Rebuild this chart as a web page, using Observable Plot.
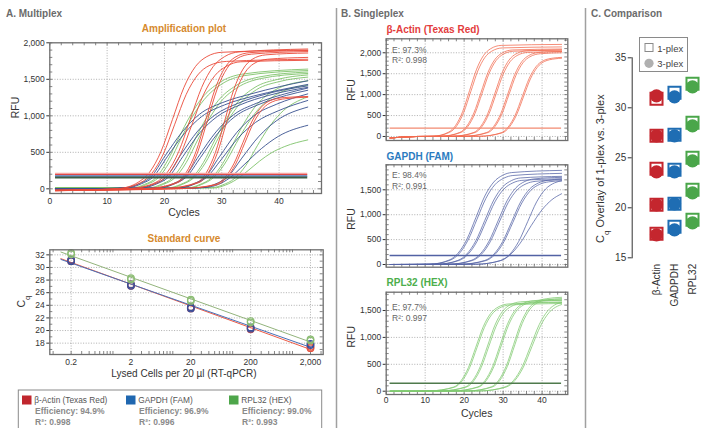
<!DOCTYPE html>
<html><head><meta charset="utf-8">
<script src="https://cdn.jsdelivr.net/npm/d3@7"></script>
<script src="https://cdn.jsdelivr.net/npm/@observablehq/plot@0.6"></script>
<style>
html,body{margin:0;padding:0;background:#fff;}
#root{position:relative;width:710px;height:428px;overflow:hidden;background:#fff;font-family:"Liberation Sans",Arial,Helvetica,sans-serif;}
</style></head><body><div id="root"></div>
<script>
// ---------- DATA ----------
// Panel A: multiplex amplification curves, [cycle, RFU] points
const multiRed = [
 [[1,-25],[12,4],[15.4,89],[17.4,226],[19.4,511],[21.4,950],[23.4,1389],[25.4,1674],[27.4,1811],[30,1870],[45,1900]],
 [[1,-20],[12,3],[15.8,83],[17.8,211],[19.8,476],[21.8,885],[23.8,1294],[25.8,1559],[27.8,1687],[30.8,1745],[45,1775]],
 [[1,-25],[14,4],[18.5,89],[20.5,226],[22.5,511],[24.5,950],[26.5,1389],[28.5,1674],[30.5,1811],[33,1875],[45,1915]],
 [[1,-20],[14,3],[18.8,83],[20.8,209],[22.8,473],[24.8,880],[26.8,1287],[28.8,1551],[30.8,1677],[33.3,1740],[45,1760]],
 [[1,-25],[17,4],[22.1,89],[23.8,225],[25.5,508],[27.2,945],[28.9,1382],[30.6,1665],[32.3,1801],[34.9,1865],[45,1895]],
 [[1,-20],[17,3],[22.4,88],[24.1,223],[25.8,503],[27.5,935],[29.2,1367],[30.9,1648],[32.6,1782],[35.2,1845],[45,1880]],
 [[1,-25],[20,4],[25.7,87],[27.3,221],[28.9,500],[30.5,930],[32.1,1360],[33.7,1639],[35.3,1773],[37.7,1835],[45,1860]],
 [[1,-20],[20,3],[26.0,85],[27.6,214],[29.2,484],[30.8,900],[32.4,1316],[34.0,1586],[35.6,1715],[38,1775],[45,1800]],
 [[1,-25],[23,3],[28.9,60],[30.5,151],[32.1,342],[33.7,635],[35.3,928],[36.9,1119],[38.5,1210],[40.9,1250],[45,1265]],
 [[1,-20],[23,3],[29.2,59],[30.8,149],[32.4,336],[34.0,625],[35.6,914],[37.2,1101],[38.8,1191],[41.2,1235],[45,1255]]
];
const multiBlue = [
 [[1,0],[10,5],[13.6,20],[15.6,70],[17.6,160],[20.1,450],[23.1,780],[26.1,1020],[30.1,1180],[35.1,1300],[40.1,1400],[45,1480]],
 [[1,0],[10,5],[14,20],[16,70],[18,160],[20.5,440],[23.5,760],[26.5,990],[30.5,1150],[35.5,1270],[40.5,1360],[45,1430]],
 [[1,0],[12,5],[16.3,20],[18.3,70],[20.3,160],[22.8,460],[25.8,790],[28.8,1010],[32.8,1170],[37.8,1300],[45,1410]],
 [[1,0],[12,5],[16.7,20],[18.7,70],[20.7,160],[23.2,440],[26.2,770],[29.2,990],[33.2,1150],[38.2,1280],[45,1390]],
 [[1,0],[15,5],[19.5,20],[21.5,70],[23.5,160],[26,450],[29,780],[32,1010],[36,1170],[41,1300],[45,1380]],
 [[1,0],[15,5],[19.8,20],[21.8,70],[23.8,160],[26.3,430],[29.3,760],[32.3,990],[36.3,1150],[41.3,1280],[45,1350]],
 [[1,0],[19,5],[23.1,20],[25.1,70],[27.1,160],[29.6,440],[32.6,770],[35.6,1000],[39.6,1160],[45,1300]],
 [[1,0],[19,5],[23.4,20],[25.4,70],[27.4,160],[29.9,400],[32.9,700],[35.9,910],[39.9,1070],[45,1210]],
 [[1,0],[23,5],[27,20],[29,70],[31,160],[33.5,420],[36.5,720],[39.5,930],[45,1120]],
 [[1,0],[23,5],[27.4,20],[29.4,60],[31.4,150],[33.9,330],[36.9,550],[39.9,720],[45,870]]
];
const multiGreen = [
 [[1,10],[10,12],[14.5,15],[16.5,60],[18.5,150],[20.5,380],[22.5,700],[24.5,1000],[26.5,1240],[29.5,1450],[33.5,1570],[45,1640]],
 [[1,10],[10,12],[14.9,15],[16.9,60],[18.9,150],[20.9,370],[22.9,690],[24.9,990],[26.9,1220],[29.9,1430],[33.9,1550],[45,1620]],
 [[1,10],[12,12],[17.4,15],[19.4,60],[21.4,150],[23.4,370],[25.4,690],[27.4,980],[29.4,1210],[32.4,1410],[36.4,1530],[45,1600]],
 [[1,10],[12,12],[17.8,15],[19.8,60],[21.8,150],[23.8,360],[25.8,670],[27.8,960],[29.8,1190],[32.8,1390],[36.8,1510],[45,1580]],
 [[1,10],[15,12],[20.8,15],[22.8,60],[24.8,150],[26.8,360],[28.8,670],[30.8,960],[32.8,1190],[35.8,1390],[39.8,1500],[45,1560]],
 [[1,10],[15,12],[21.1,15],[23.1,60],[25.1,150],[27.1,350],[29.1,650],[31.1,940],[33.1,1160],[36.1,1360],[40.1,1470],[45,1530]],
 [[1,10],[19,12],[24.2,15],[26.2,60],[28.2,150],[30.2,350],[32.2,650],[34.2,940],[36.2,1160],[39.2,1350],[45,1480]],
 [[1,10],[19,12],[24.5,15],[26.5,60],[28.5,150],[30.5,340],[32.5,620],[34.5,890],[36.5,1100],[39.5,1290],[45,1420]],
 [[1,10],[22,12],[28.2,15],[30.2,55],[32.2,140],[34.2,320],[36.2,590],[38.2,840],[40.2,1030],[45,1260]],
 [[1,10],[22,12],[28.6,12],[30.6,50],[32.6,130],[34.6,250],[36.6,380],[38.6,490],[41,580],[45,670]]
];
const thrSpan = [1, 45];
const multiThresholds = [205, 196, 175, 155];

// Panel A: standard curve
const scConc = [0.2, 2, 20, 200, 2000];
const scActin = [[31.0,31.2],[27.1,27.3],[23.5,23.7],[20.2,20.4],[17.2,17.4]];
const scGapdh = [[31.0,31.2],[27.1,27.3],[23.5,23.7],[20.3,20.5],[17.7,17.9]];
const scRpl32 = [[32.1,32.3],[28.1,28.3],[24.7,24.9],[21.3,21.5],[18.4,18.6]];
const fitSpan = [0.135, 2050];
const legendNames = ["β-Actin (Texas Red)", "GAPDH (FAM)", "RPL32 (HEX)"];
const legendEff = ["Efficiency: 94.9%", "Efficiency: 96.9%", "Efficiency: 99.0%"];
const legendR2 = ["R²: 0.998", "R²: 0.996", "R²: 0.993"];

// Panel B: singleplex curves
const singleRed = [
 [[1,-35],[8,0],[12,5],[16.0,103],[17.8,262],[19.6,592],[21.4,1100],[23.2,1608],[25.0,1938],[26.8,2097],[29.5,2176],[45,2200]],
 [[1,-35],[8,0],[12,5],[16.3,101],[18.1,255],[19.9,576],[21.7,1070],[23.5,1564],[25.3,1885],[27.1,2039],[29.8,2116],[45,2140]],
 [[1,-35],[8,0],[14,5],[18.9,98],[20.7,249],[22.5,562],[24.3,1045],[26.1,1528],[27.9,1841],[29.7,1992],[32.4,2067],[45,2090]],
 [[1,-35],[8,0],[14,5],[19.2,97],[21.0,245],[22.8,554],[24.6,1030],[26.4,1506],[28.2,1815],[30.0,1963],[32.7,2037],[45,2060]],
 [[1,-35],[8,0],[17,5],[22.5,97],[24.3,246],[26.1,557],[27.9,1035],[29.7,1513],[31.5,1824],[33.3,1973],[36,2047],[45,2070]],
 [[1,-35],[8,0],[17,5],[22.8,95],[24.6,242],[26.4,546],[28.2,1015],[30.0,1484],[31.8,1788],[33.6,1935],[36.3,2008],[45,2030]],
 [[1,-35],[8,0],[20,5],[25.8,95],[27.6,242],[29.4,546],[31.2,1015],[33.0,1484],[34.8,1788],[36.6,1935],[39.3,2008],[45,2030]],
 [[1,-35],[8,0],[20,5],[26.1,94],[27.9,238],[29.7,538],[31.5,1000],[33.3,1462],[35.1,1762],[36.9,1906],[39.6,1978],[45,2000]],
 [[1,-35],[8,0],[24,5],[29.5,89],[31.3,226],[33.1,511],[34.9,950],[36.7,1389],[38.5,1674],[40.3,1811],[43,1875],[45,1890]],
 [[1,-35],[8,0],[24,5],[29.8,88],[31.6,224],[33.4,506],[35.2,940],[37.0,1374],[38.8,1656],[40.6,1792],[43.3,1855],[45,1870]]
];
const singleBlue = [
 [[1,0],[11,5],[16.1,88],[18.4,224],[20.7,506],[23.0,940],[25.3,1374],[27.6,1656],[29.9,1792],[32.2,1846],[45,1890]],
 [[1,0],[11,5],[16.4,86],[18.7,217],[21.0,490],[23.3,910],[25.6,1330],[27.9,1603],[30.2,1734],[32.5,1787],[45,1830]],
 [[1,0],[13,5],[18.4,83],[20.7,211],[23.0,476],[25.3,885],[27.6,1294],[29.9,1559],[32.2,1687],[34.5,1738],[45,1770]],
 [[1,0],[13,5],[18.7,81],[21.0,205],[23.3,463],[25.6,860],[27.9,1257],[30.2,1515],[32.5,1639],[34.8,1689],[45,1720]],
 [[1,0],[16,5],[21.8,82],[24.1,208],[26.4,471],[28.7,875],[31.0,1279],[33.3,1542],[35.6,1668],[37.9,1718],[45,1750]],
 [[1,0],[16,5],[22.1,80],[24.4,202],[26.7,457],[29.0,850],[31.3,1243],[33.6,1498],[35.9,1620],[38.2,1669],[45,1700]],
 [[1,0],[19,5],[25.3,81],[27.6,205],[29.9,463],[32.2,860],[34.5,1257],[36.8,1515],[39.1,1639],[41.4,1689],[45,1715]],
 [[1,0],[19,5],[25.6,79],[27.9,201],[30.2,455],[32.5,845],[34.8,1235],[37.1,1489],[39.4,1611],[41.7,1660],[45,1680]],
 [[1,0],[23,5],[29.4,81],[31.7,205],[34.0,463],[36.3,860],[38.6,1257],[40.9,1515],[43.2,1639],[45,1680]],
 [[1,0],[23,5],[29.2,75],[31.6,180],[34.4,430],[37.2,780],[40.0,1100],[42.5,1300],[45,1420]]
];
const singleGreen = [
 [[1,0],[11,5],[17.3,77],[19.2,195],[21.1,441],[23.0,820],[24.9,1199],[26.8,1445],[28.7,1563],[31.5,1622],[45,1650]],
 [[1,0],[11,5],[17.6,76],[19.5,193],[21.4,436],[23.3,810],[25.2,1184],[27.1,1427],[29.0,1544],[31.8,1602],[45,1630]],
 [[1,0],[14,5],[20.3,79],[22.2,200],[24.1,452],[26.0,840],[27.9,1228],[29.8,1480],[31.7,1601],[34.5,1661],[45,1690]],
 [[1,0],[14,5],[20.6,78],[22.5,196],[24.4,444],[26.3,825],[28.2,1206],[30.1,1454],[32.0,1572],[34.8,1632],[45,1660]],
 [[1,0],[17,5],[23.5,80],[25.4,202],[27.3,457],[29.2,850],[31.1,1243],[33.0,1498],[34.9,1620],[37.7,1681],[45,1710]],
 [[1,0],[17,5],[23.8,79],[25.7,200],[27.6,452],[29.5,840],[31.4,1228],[33.3,1480],[35.2,1601],[38.0,1661],[45,1690]],
 [[1,0],[21,5],[27.0,82],[28.9,207],[30.8,468],[32.7,870],[34.6,1272],[36.5,1533],[38.4,1658],[41.2,1720],[45,1745]],
 [[1,0],[21,5],[27.3,81],[29.2,205],[31.1,463],[33.0,860],[34.9,1257],[36.8,1515],[38.7,1639],[41.5,1701],[45,1720]],
 [[1,0],[24,5],[30.5,80],[32.7,202],[34.9,457],[37.1,850],[39.3,1243],[41.5,1498],[43.7,1620],[45,1650]],
 [[1,0],[24,5],[30.8,78],[33.0,198],[35.2,447],[37.4,830],[39.6,1213],[41.8,1462],[44.0,1582],[45,1610]]
];
const singleTitles = ["β-Actin (Texas Red)", "GAPDH (FAM)", "RPL32 (HEX)"];
const singleEff = ["E: 97.3%", "E: 98.4%", "E: 97.7%"];
const singleR2 = ["R²: 0.998", "R²: 0.991", "R²: 0.997"];
const singleThresholds = [200, 180, 149];

// Panel C: comparison
const genesC = ["β-Actin", "GADPDH", "RPL32"];
const plex1Actin = [30.9, 27.2, 23.9, 20.3, 17.4];
const plex1Gapdh = [31.5, 27.3, 23.8, 20.4, 18.1];
const plex1Rpl32 = [32.4, 28.5, 25.0, 21.8, 18.8];
const plex3Actin = [31.2, 27.2, 23.6, 20.3, 17.3];
const plex3Gapdh = [31.1, 27.2, 23.6, 20.4, 17.8];
const plex3Rpl32 = [32.1, 28.2, 24.7, 21.5, 18.5];

// ---------- HELPERS ----------
const root = document.getElementById("root");
const FONT = '"Liberation Sans", Arial, Helvetica, sans-serif';
const gridStyle = {stroke: "#9a9a9a", strokeDasharray: "1,1.6", strokeWidth: 0.8};
const frameStyle = {stroke: "#6e6e6e", strokeWidth: 1.3};
const baseStyle = fs => ({fontFamily: FONT, fontSize: fs, color: "#333", background: "transparent", overflow: "visible"});
function place(el, left, top) { el.style.position = "absolute"; el.style.left = left + "px"; el.style.top = top + "px"; root.appendChild(el); }
function toRows(curves) { return curves.flatMap((c, i) => c.map(([x, y]) => ({x, y, id: i}))); }
function innerTicks(xVals, yVals, fw, fh, len = 3) {
  const s = {stroke: "#666", strokeWidth: 0.8};
  return [
    Plot.tickX(xVals, {x: d => d, insetTop: fh - len, ...s}),
    Plot.tickX(xVals, {x: d => d, insetBottom: fh - len, ...s}),
    Plot.tickY(yVals, {y: d => d, insetRight: fw - len, ...s}),
    Plot.tickY(yVals, {y: d => d, insetLeft: fw - len, ...s})
  ];
}
const curveLine = (curves, color, w = 1, op = 0.9) => Plot.line(toRows(curves), {x: "x", y: "y", z: "id", stroke: color, strokeWidth: w, strokeOpacity: op, curve: "monotone-x"});

// ---------- PANEL A: amplification ----------
{
  const W = 330, H = 185, ml = 49.3, mr = 9, mt = 12.3, mb = 22;
  const fw = W - ml - mr, fh = H - mt - mb;
  const thrColors = ["#f6a3a0", "#e04848", "#4d6fb0", "#3d5c45"];
  const thrWidths = [2, 1, 1.5, 2];
  const p = Plot.plot({
    width: W, height: H, marginLeft: ml, marginRight: mr, marginTop: mt, marginBottom: mb,
    style: baseStyle("8.5px"),
    x: {domain: [0, 47.4], ticks: [0, 10, 20, 30, 40], tickSize: 0, tickPadding: 4, label: null},
    y: {domain: [-64, 2000], ticks: [0, 500, 1000, 1500, 2000], tickSize: 3, tickPadding: 2, tickFormat: d3.format(","), label: null},
    marks: [
      Plot.ruleX([10, 20, 30, 40], {x: d => d, ...gridStyle}),
      Plot.ruleY([0, 500, 1000, 1500], {y: d => d, ...gridStyle}),
      ...innerTicks(d3.range(0, 47, 2), d3.range(0, 2001, 100), fw, fh),
      curveLine(multiGreen, "#7fc36c"),
      curveLine(multiBlue, "#38518f"),
      curveLine(multiRed, "#ea4a3a"),
      ...multiThresholds.map((t, i) => Plot.ruleY([t], {y: d => d, x1: thrSpan[0], x2: thrSpan[1], stroke: thrColors[i], strokeWidth: thrWidths[i]})),
      Plot.frame(frameStyle)
    ]
  });
  place(p, 0, 30);
}

// ---------- PANEL A: standard curve ----------
{
  const W = 330, H = 135, ml = 49.3, mr = 7.3, mt = 9.3, mb = 21;
  const fw = W - ml - mr, fh = H - mt - mb;
  const logMinor = [0.1, 1, 10, 100, 1000].flatMap(b => d3.range(1, 10).map(k => b * k)).filter(v => v >= 0.09 && v <= 3200);
  const scRows = vals => vals.flatMap((reps, i) => reps.map(v => ({conc: scConc[i], cq: v})));
  const fitLine = vals => {
    const xs = scConc.map(c => Math.log10(c)), ys = vals.map(v => d3.mean(v));
    const mx = d3.mean(xs), my = d3.mean(ys);
    const b = d3.sum(xs.map((x, i) => (x - mx) * (ys[i] - my))) / d3.sum(xs.map(x => (x - mx) ** 2));
    const a = my - b * mx;
    return fitSpan.map(c => ({conc: c, cq: a + b * Math.log10(c)}));
  };
  const p = Plot.plot({
    width: W, height: H, marginLeft: ml, marginRight: mr, marginTop: mt, marginBottom: mb,
    style: baseStyle("8.5px"),
    x: {type: "log", domain: [0.088, 3260], ticks: scConc, tickFormat: d3.format(","), tickSize: 0, tickPadding: 4, label: null},
    y: {domain: [16.2, 32.8], ticks: d3.range(18, 33, 2), tickSize: 3, tickPadding: 2, label: null},
    marks: [
      Plot.ruleX(scConc, {x: d => d, ...gridStyle}),
      Plot.ruleY(d3.range(18, 33, 2), {y: d => d, ...gridStyle}),
      ...innerTicks(logMinor, d3.range(17, 33, 1), fw, fh),
      Plot.line(fitLine(scActin), {x: "conc", y: "cq", stroke: "#ee5a45", strokeWidth: 1}),
      Plot.line(fitLine(scGapdh), {x: "conc", y: "cq", stroke: "#4a70b6", strokeWidth: 1}),
      Plot.line(fitLine(scRpl32), {x: "conc", y: "cq", stroke: "#93b47c", strokeWidth: 1}),
      Plot.dot(scRows(scActin), {x: "conc", y: "cq", r: 3.3, stroke: "#e5533f", strokeWidth: 1.2, fill: "none"}),
      Plot.dot(scRows(scGapdh), {x: "conc", y: "cq", r: 3.3, stroke: "#3a4f9c", strokeWidth: 1.2, fill: "none"}),
      Plot.dot(scRows(scRpl32), {x: "conc", y: "cq", r: 3.3, stroke: "#8cbd74", strokeWidth: 1.2, fill: "none"}),
      Plot.frame(frameStyle)
    ]
  });
  place(p, 0, 240);
}

// ---------- PANEL B ----------
function singlePlot({curves, color, thr, thrColor, yDomain, yTicks, top, height, mt, mb, xLabels}) {
  const W = 234, ml = 49.7, mr = 2.7;
  const fw = W - ml - mr, fh = height - mt - mb;
  const p = Plot.plot({
    width: W, height, marginLeft: ml, marginRight: mr, marginTop: mt, marginBottom: mb,
    style: baseStyle("8.5px"),
    x: {domain: [0, 46.6], axis: xLabels ? "bottom" : null, ticks: [0, 10, 20, 30, 40], tickSize: 0, tickPadding: 2.5, label: null},
    y: {domain: yDomain, ticks: yTicks, tickSize: 3, tickPadding: 2, tickFormat: d3.format(","), label: null},
    marks: [
      Plot.ruleX([10, 20, 30, 40], {x: d => d, ...gridStyle}),
      Plot.ruleY(yTicks, {y: d => d, ...gridStyle}),
      ...innerTicks(d3.range(0, 47, 2), d3.range(0, yDomain[1], 100), fw, fh),
      curveLine(curves, color, 0.9, 0.85),
      Plot.ruleY([thr], {y: d => d, x1: thrSpan[0], x2: thrSpan[1], stroke: thrColor, strokeWidth: 1.4}),
      Plot.frame(frameStyle)
    ]
  });
  place(p, 336, top);
}
singlePlot({curves: singleRed, color: "#f2694e", thr: singleThresholds[0], thrColor: "#f28a70", yDomain: [-96, 2334], yTicks: [0, 500, 1000, 1500, 2000], top: 30, height: 118, mt: 8.3, mb: 8, xLabels: false});
singlePlot({curves: singleBlue, color: "#5564a6", thr: singleThresholds[1], thrColor: "#5262a4", yDomain: [-54, 2002], yTicks: [0, 500, 1000, 1500], top: 155, height: 120, mt: 9.3, mb: 8.3, xLabels: false});
singlePlot({curves: singleGreen, color: "#80c970", thr: singleThresholds[2], thrColor: "#4f7a4c", yDomain: [-61, 1840], yTicks: [0, 500, 1000, 1500], top: 282, height: 140, mt: 9.7, mb: 28, xLabels: true});

// ---------- PANEL C ----------
{
  const colorsC = ["#c4262e", "#1f6db3", "#4aa64a"];
  const rows = (arrs) => arrs.flatMap((a, g) => a.map(v => ({gene: genesC[g], cq: v})));
  const r1 = rows([plex1Actin, plex1Gapdh, plex1Rpl32]);
  const r3 = rows([plex3Actin, plex3Gapdh, plex3Rpl32]);
  const p = Plot.plot({
    width: 125, height: 270, marginLeft: 46.7, marginRight: 0, marginTop: 17.3, marginBottom: 52.7,
    style: baseStyle("10px"),
    x: {type: "point", domain: genesC, range: [61.7, 116.3], tickSize: 0, tickPadding: 6, tickRotate: -90, label: null},
    y: {domain: [15, 35], ticks: [15, 20, 25, 30, 35], tickSize: 4, tickPadding: 2, line: true, label: null},
    color: {domain: genesC, range: colorsC},
    marks: [
      Plot.dot(r1, {x: "gene", y: "cq", symbol: "square", r: 6.8, stroke: "gene", fill: "white", strokeWidth: 2}),
      Plot.dot(r3, {x: "gene", y: "cq", r: 6.6, fill: "gene", stroke: "none"})
    ]
  });
  place(p, 585, 40);
}

// ---------- OVERLAY TEXT ----------
const ov = d3.create("svg").attr("width", 710).attr("height", 428)
  .style("position", "absolute").style("left", "0px").style("top", "0px").style("pointer-events", "none")
  .style("font-family", FONT);
function txt(x, y, s, o = {}) {
  const t = ov.append("text").attr("x", x).attr("y", y)
    .attr("font-size", o.size || 10).attr("fill", o.fill || "#333")
    .attr("font-weight", o.bold ? "bold" : "normal").attr("text-anchor", o.anchor || "start");
  if (s !== null) t.text(s);
  if (o.rotate) t.attr("transform", `rotate(-90,${x},${y})`);
  return t;
}
[336.5, 585.5].forEach(x => ov.append("line").attr("x1", x).attr("x2", x).attr("y1", 8).attr("y2", 428).attr("stroke", "#a0a0a0").attr("stroke-width", 1.5));

const gray = "#6b6b6b", orange = "#d68a2e";
txt(6, 17, "A. Multiplex", {bold: true, fill: gray});
txt(341, 17, "B. Singleplex", {bold: true, fill: gray});
txt(591, 17, "C. Comparison", {bold: true, fill: gray});

txt(184, 32, "Amplification plot", {bold: true, fill: orange, anchor: "middle"});
txt(19.3, 107.5, "RFU", {size: 10.5, anchor: "middle", rotate: true});
txt(184, 216, "Cycles", {size: 10.5, anchor: "middle"});
txt(184, 242, "Standard curve", {bold: true, fill: orange, anchor: "middle"});
{
  const t = txt(25, 301.7, null, {size: 10.5, anchor: "middle", rotate: true});
  t.append("tspan").text("C");
  t.append("tspan").attr("baseline-shift", "sub").attr("font-size", 7.5).text("q");
}
txt(184, 377, "Lysed Cells per 20 µl (RT-qPCR)", {size: 10, anchor: "middle"});

ov.append("rect").attr("x", 18.3).attr("y", 390).attr("width", 303.4).attr("height", 50)
  .attr("fill", "none").attr("stroke", "#8a8a8a").attr("stroke-width", 1);
const legSq = ["#c0262d", "#1f67b0", "#4ea64a"];
const legX = [22, 126, 229];
legendNames.forEach((n, i) => {
  ov.append("rect").attr("x", legX[i]).attr("y", 395.5).attr("width", 9.5).attr("height", 9).attr("fill", legSq[i]);
  txt(legX[i] + 12.3, 402.7, n, {size: 8.3, fill: "#555"});
  txt(legX[i] + 13, 414, legendEff[i], {size: 8.5, bold: true, fill: "#8a8a8a"});
  txt(legX[i] + 13, 424.5, legendR2[i], {size: 8.5, bold: true, fill: "#8a8a8a"});
});

const bTitleColors = ["#e33d3d", "#2b7bc0", "#4cae4c"];
const bTitleY = [32.5, 160, 286];
const bEY = [52.5, 178, 310];
const bRfuY = [90, 219, 336.7];
singleTitles.forEach((t, i) => {
  txt(386.5, bTitleY[i], t, {bold: true, fill: bTitleColors[i]});
  txt(392, bEY[i], singleEff[i], {size: 8.5, fill: "#666"});
  txt(392, bEY[i] + 10.8, singleR2[i], {size: 8.5, fill: "#666"});
  txt(354.7, bRfuY[i], "RFU", {size: 10.5, anchor: "middle", rotate: true});
});
txt(476.7, 416.5, "Cycles", {size: 10.5, anchor: "middle"});

{
  const t = txt(604.5, 168.7, null, {size: 11, anchor: "middle", rotate: true});
  t.append("tspan").text("C");
  t.append("tspan").attr("baseline-shift", "sub").attr("font-size", 8).text("q");
  t.append("tspan").attr("baseline-shift", "0").text(" Overlay of 1-plex vs. 3-plex");
}
ov.append("rect").attr("x", 639.5).attr("y", 37.5).attr("width", 48).attr("height", 34)
  .attr("fill", "white").attr("stroke", "#8a8a8a").attr("stroke-width", 1);
ov.append("rect").attr("x", 645).attr("y", 43.5).attr("width", 8).attr("height", 8)
  .attr("fill", "white").attr("stroke", "#8a8a8a").attr("stroke-width", 1);
ov.append("circle").attr("cx", 649).attr("cy", 63.3).attr("r", 4.6).attr("fill", "#b0b0b0");
txt(657.3, 51.5, "1-plex", {size: 9.5, fill: "#444"});
txt(657.3, 67, "3-plex", {size: 9.5, fill: "#444"});

root.appendChild(ov.node());
</script></body></html>
